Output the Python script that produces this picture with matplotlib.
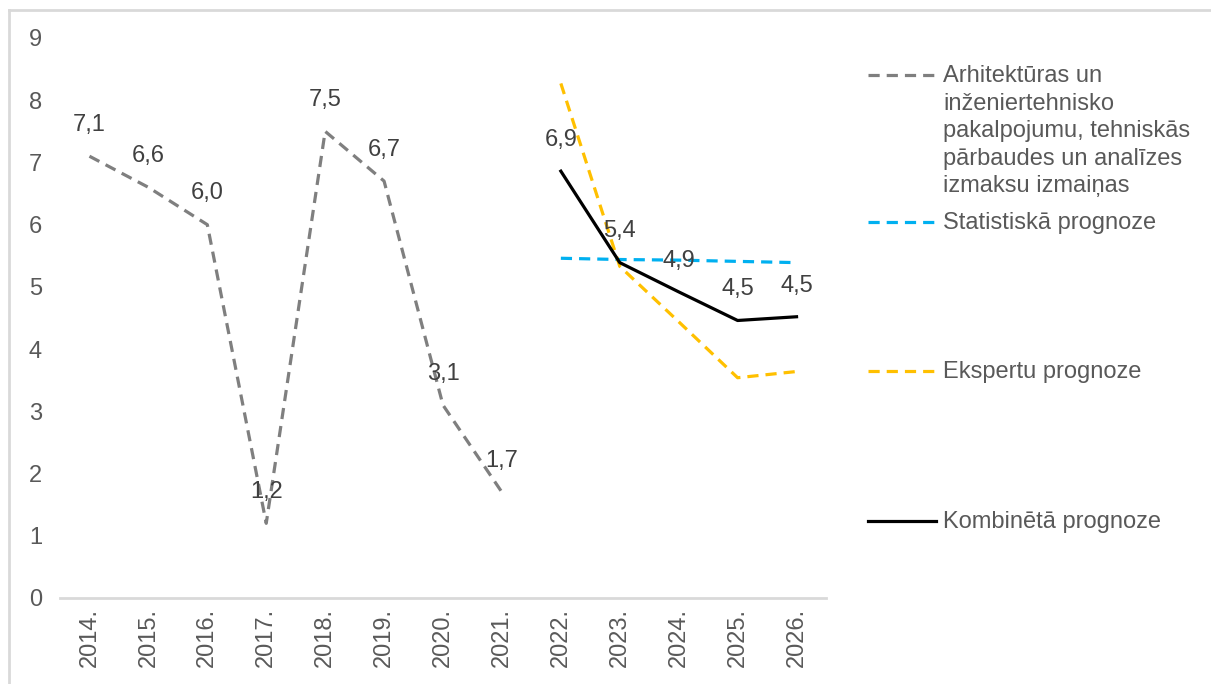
import matplotlib
matplotlib.use("Agg")
import matplotlib.pyplot as plt
from matplotlib.lines import Line2D

plt.rcParams["font.family"] = ["Liberation Sans", "DejaVu Sans"]

# Years on the horizontal axis
years = ["2014.", "2015.", "2016.", "2017.", "2018.", "2019.", "2020.",
         "2021.", "2022.", "2023.", "2024.", "2025.", "2026."]

# Actual cost changes 2014-2021
hist_values = [7.1, 6.6, 6.0, 1.2, 7.5, 6.7, 3.1, 1.7]
# Forecasts 2022-2026
stat_values = [5.46, 5.44, 5.43, 5.41, 5.39]
expert_values = [8.27, 5.33, 4.44, 3.54, 3.64]
combined_values = [6.86, 5.39, 4.92, 4.46, 4.52]

legend_labels = [
    "Arhitektūras un\ninženiertehnisko\npakalpojumu, tehniskās\npārbaudes un analīzes\nizmaksu izmaiņas",
    "Statistiskā prognoze",
    "Ekspertu prognoze",
    "Kombinētā prognoze",
]

GRAY = "#7f7f7f"
BLUE = "#00b0f0"
ORANGE = "#ffc000"
BLACK = "#000000"
TEXT = "#595959"
LABEL = "#404040"
FS = 17

W, H = 1211, 684
fig = plt.figure(figsize=(W / 100, H / 100), dpi=100)
ax = fig.add_axes([60 / W, 1 - 598 / H, (826 - 60) / W, (598 - 38) / H])

x_all = list(range(len(years)))
x_hist = x_all[:len(hist_values)]
x_fc = x_all[len(hist_values):]

dash = (3.5, 2.2)
hist_line, = ax.plot(x_hist, hist_values, color=GRAY, lw=2.3, dashes=dash)
stat_line, = ax.plot(x_fc, stat_values, color=BLUE, lw=2.3, dashes=dash)
exp_line, = ax.plot(x_fc, expert_values, color=ORANGE, lw=2.3, dashes=dash)
comb_line, = ax.plot(x_fc, combined_values, color=BLACK, lw=2.3)

def fmt(v):
    return f"{v:.1f}".replace(".", ",")

for xi, v in zip(x_hist, hist_values):
    ax.annotate(fmt(v), (xi, v), xytext=(0, 22.5), textcoords="offset points",
                ha="center", va="center", fontsize=FS, color=LABEL)
for xi, v in zip(x_fc, combined_values):
    ax.annotate(fmt(v), (xi, v), xytext=(0, 22.5), textcoords="offset points",
                ha="center", va="center", fontsize=FS, color=LABEL)

ax.set_xlim(-0.5, len(years) - 0.5)
ax.set_ylim(0, 9)
ax.set_yticks(range(0, 10))
ax.set_xticks(x_all)
ax.set_xticklabels(years, rotation=90)
ax.tick_params(axis="both", length=0, labelsize=FS, labelcolor=TEXT)
ax.tick_params(axis="y", pad=13)
ax.tick_params(axis="x", pad=7)
for side in ("left", "right", "top"):
    ax.spines[side].set_visible(False)
ax.spines["bottom"].set_color("#d9d9d9")
ax.spines["bottom"].set_linewidth(2)

# Legend entries, laid out down the right-hand side
handles = [hist_line, stat_line, exp_line, comb_line]
ys = [75, 222, 371, 521]
for h, label, y in zip(handles, legend_labels, ys):
    yf = 1 - y / H
    ln = Line2D([868 / W, 936 / W], [yf, yf], transform=fig.transFigure,
                color=h.get_color(), lw=h.get_linewidth())
    if h is not comb_line:
        ln.set_dashes(dash)
    fig.add_artist(ln)
    fig.text(943 / W, yf + 10 / H, label, ha="left", va="top",
             fontsize=FS, color=TEXT, linespacing=1.33)

# Chart frame
fig.add_artist(Line2D([9 / W, 1], [1 - 10 / H, 1 - 10 / H], transform=fig.transFigure,
                      color="#d9d9d9", lw=2))
fig.add_artist(Line2D([9 / W, 9 / W], [0, 1 - 10 / H], transform=fig.transFigure,
                      color="#d9d9d9", lw=2))

fig.savefig("out.png", dpi=100)
